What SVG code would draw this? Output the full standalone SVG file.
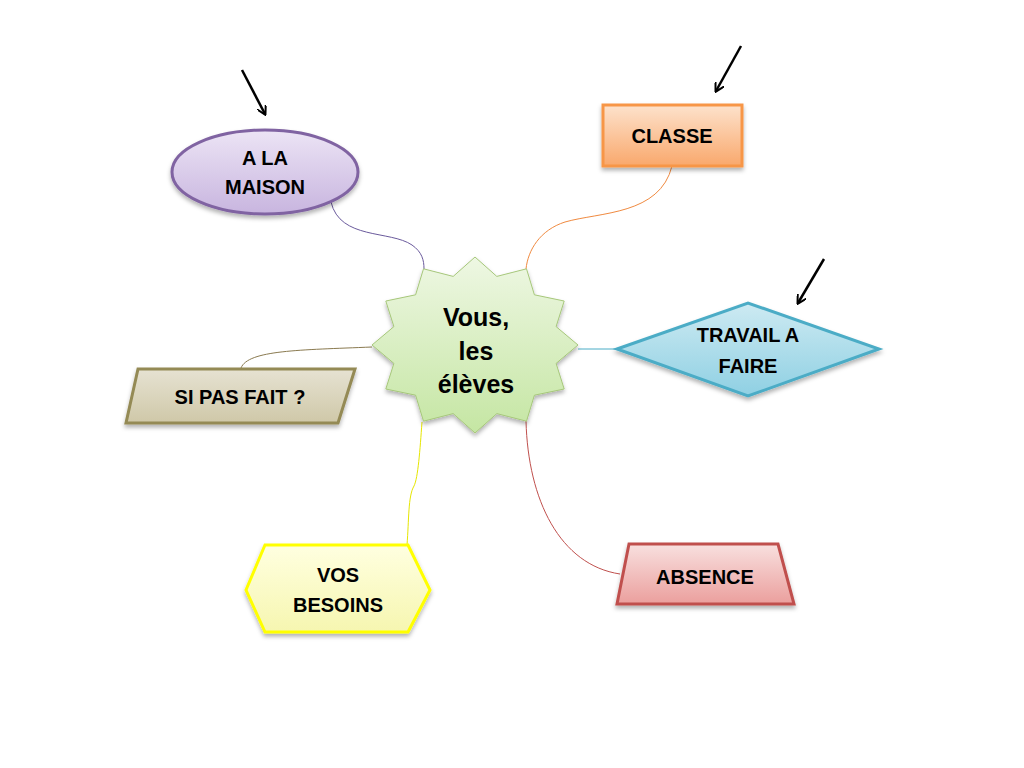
<svg xmlns="http://www.w3.org/2000/svg" width="1024" height="768" viewBox="0 0 1024 768">
<defs>
<linearGradient id="gPurple" x1="0" y1="0" x2="0" y2="1"><stop offset="0" stop-color="#ece4f5"/><stop offset="1" stop-color="#c8b5df"/></linearGradient>
<linearGradient id="gOrange" x1="0" y1="0" x2="0" y2="1"><stop offset="0" stop-color="#fde2cc"/><stop offset="1" stop-color="#f9a86c"/></linearGradient>
<linearGradient id="gBlue" x1="0" y1="0" x2="0" y2="1"><stop offset="0" stop-color="#cdeaf2"/><stop offset="1" stop-color="#8fd0e3"/></linearGradient>
<linearGradient id="gTan" x1="0" y1="0" x2="0" y2="1"><stop offset="0" stop-color="#e6e2d2"/><stop offset="1" stop-color="#cfc8a8"/></linearGradient>
<linearGradient id="gYellow" x1="0" y1="0" x2="0" y2="1"><stop offset="0" stop-color="#ffffe0"/><stop offset="1" stop-color="#f6f6b0"/></linearGradient>
<linearGradient id="gPink" x1="0" y1="0" x2="0" y2="1"><stop offset="0" stop-color="#f8e0df"/><stop offset="1" stop-color="#eb9f9d"/></linearGradient>
<linearGradient id="gGreen" x1="0" y1="0" x2="0" y2="1"><stop offset="0" stop-color="#eef7e3"/><stop offset="1" stop-color="#c5e6a3"/></linearGradient>
<filter id="sh" x="-20%" y="-20%" width="140%" height="150%"><feDropShadow dx="0" dy="3" stdDeviation="2" flood-color="#000" flood-opacity="0.3"/></filter>
<marker id="ah" markerWidth="10" markerHeight="10" refX="8" refY="5" orient="auto" markerUnits="userSpaceOnUse"><path d="M0,0 L9,5 L0,10" fill="none" stroke="#000" stroke-width="2"/></marker>
</defs>
<style>
.t{font-family:"Liberation Sans",Arial,sans-serif;font-weight:bold;font-size:20px;fill:#000;text-anchor:middle}
.big{font-size:25px}
.c{fill:none;stroke-width:1}
.arr{stroke:#000;stroke-width:2.5;fill:none}
</style>
<rect width="1024" height="768" fill="#fff"/>
<g id="connectors">
<path class="c" stroke="#6a5a9c" d="M331,202 C340,240 390,230 412,245 C422,252 424,260 424,269"/>
<path class="c" stroke="#f08a40" d="M672,166 C660,215 600,212 565,222 C540,230 528,250 526,269"/>
<path class="c" stroke="#8a7a50" d="M241,368 C248,350 300,350 372,347"/>
<path class="c" stroke="#4bacc6" d="M578,349 L617,349"/>
<path class="c" stroke="#e6e600" d="M422,422 C420,450 418,478 414,486 C408,496 409,520 407,545"/>
<path class="c" stroke="#c0504d" d="M526,421 C528,500 560,565 620,574"/>
</g>
<g id="arrows">
<path class="arr" d="M242,70 L265,114" marker-end="url(#ah)"/>
<path class="arr" d="M741,46 L716,91" marker-end="url(#ah)"/>
<path class="arr" d="M824,259 L798,303" marker-end="url(#ah)"/>
</g>
<g id="center">
<polygon points="578,345 556.1,326.6 564.2,301 534.4,294.8 526.5,268.8 496.8,276.4 475,257 453.2,276.4 423.5,268.8 415.6,294.8 385.8,301 393.9,326.6 372,345 393.9,363.4 385.8,389 415.6,395.2 423.5,421.2 453.2,413.6 475,433 496.8,413.6 526.5,421.2 534.4,395.2 564.2,389 556.1,363.4" fill="url(#gGreen)" stroke="#a6c77a" stroke-width="1" filter="url(#sh)"/>
<text class="t big" x="476" y="326">Vous,</text>
<text class="t big" x="476" y="360">les</text>
<text class="t big" x="476" y="393">élèves</text>
</g>
<g id="maison">
<ellipse cx="265" cy="172" rx="93" ry="42" fill="url(#gPurple)" stroke="#8064a2" stroke-width="3" filter="url(#sh)"/>
<text class="t" x="265" y="165">A LA</text>
<text class="t" x="265" y="194">MAISON</text>
</g>
<g id="classe">
<rect x="603" y="105" width="139" height="61" fill="url(#gOrange)" stroke="#f79646" stroke-width="3" filter="url(#sh)"/>
<text class="t" x="672" y="143">CLASSE</text>
</g>
<g id="travail">
<polygon points="617,349 748,303 879,349 748,396" fill="url(#gBlue)" stroke="#4bacc6" stroke-width="3" filter="url(#sh)"/>
<text class="t" x="748" y="342">TRAVAIL A</text>
<text class="t" x="748" y="373">FAIRE</text>
</g>
<g id="sipasfait">
<polygon points="138,369 355,369 338,423 126,423" fill="url(#gTan)" stroke="#948a54" stroke-width="3" filter="url(#sh)"/>
<text class="t" x="240" y="404">SI PAS FAIT ?</text>
</g>
<g id="besoins">
<polygon points="265,545 408,545 430,590 408,632 265,632 246,590" fill="url(#gYellow)" stroke="#ffff00" stroke-width="3" filter="url(#sh)"/>
<text class="t" x="338" y="582">VOS</text>
<text class="t" x="338" y="612">BESOINS</text>
</g>
<g id="absence">
<polygon points="629,544 778,544 794,604 617,604" fill="url(#gPink)" stroke="#c0504d" stroke-width="3" filter="url(#sh)"/>
<text class="t" x="705" y="584">ABSENCE</text>
</g>
</svg>
